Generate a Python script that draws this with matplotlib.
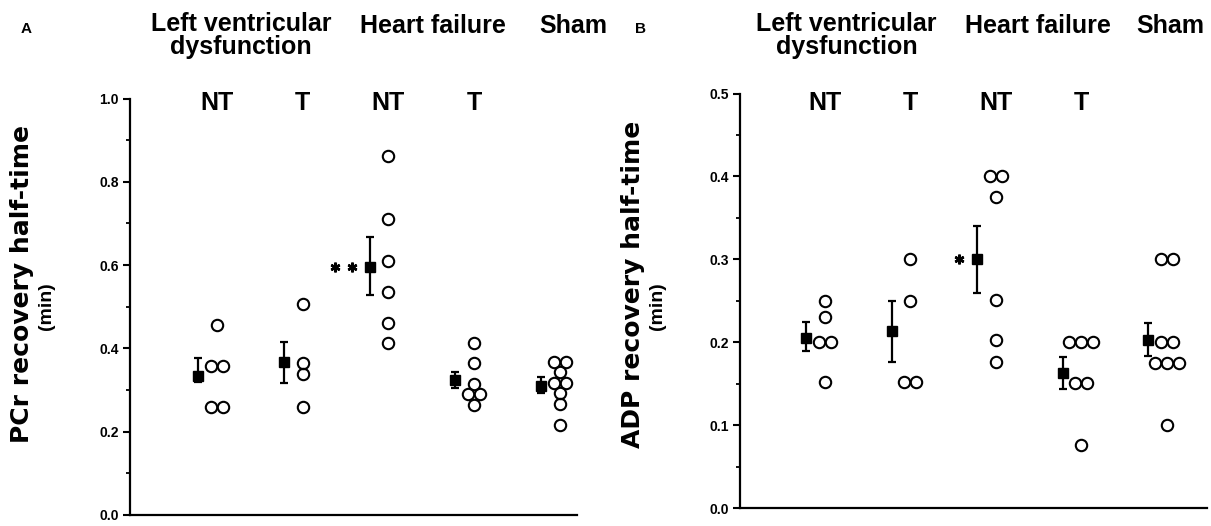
import numpy as np
import matplotlib.pyplot as plt
from matplotlib import transforms

plt.rcParams['font.family'] = ['Liberation Sans', 'DejaVu Sans']
plt.rcParams['font.weight'] = 'bold'

W, H = 1211, 526

groups = ['LVD NT', 'LVD T', 'HF NT', 'HF T', 'Sham']
treat_labels = ['NT', 'T', 'NT', 'T']
group_titles = ['Left ventricular\ndysfunction', 'Heart failure', 'Sham']

# panel A: PCr recovery half-time (min)
pcr_points = [
    [0.455, 0.358, 0.358, 0.259, 0.259],
    [0.507, 0.364, 0.338, 0.260],
    [0.862, 0.711, 0.610, 0.535, 0.462, 0.412],
    [0.414, 0.364, 0.315, 0.291, 0.291, 0.264],
    [0.367, 0.367, 0.343, 0.316, 0.316, 0.292, 0.266, 0.216],
]
pcr_mean = [0.334, 0.367, 0.596, 0.324, 0.310]
pcr_hi = [0.378, 0.416, 0.668, 0.344, 0.332]
pcr_lo = [0.319, 0.316, 0.528, 0.304, 0.292]
pcr_sig = ['', '', '**', '', '']

# panel B: ADP recovery half-time (min)
adp_points = [
    [0.25, 0.23, 0.2, 0.2, 0.152],
    [0.3, 0.25, 0.152, 0.152],
    [0.4, 0.4, 0.375, 0.251, 0.203, 0.176],
    [0.2, 0.2, 0.2, 0.151, 0.151, 0.076],
    [0.3, 0.3, 0.2, 0.2, 0.175, 0.175, 0.175, 0.1],
]
adp_mean = [0.205, 0.2135, 0.300, 0.163, 0.203]
adp_hi = [0.225, 0.25, 0.340, 0.1825, 0.2235]
adp_lo = [0.189, 0.1765, 0.260, 0.144, 0.1834]
adp_sig = ['', '', '*', '', '']


fig = plt.figure(figsize=(W / 100, H / 100), dpi=100)


def draw_panel(rect, xlim, points, mean, hi, lo, sig, ymax, major, title_x,
               ylab, ylab_x, letter, letter_x):
    ax = fig.add_axes(rect)
    step = 0.14
    for i, vals in enumerate(points):
        for v in sorted(set(vals)):
            k = vals.count(v)
            xs = i + (np.arange(k) - (k - 1) / 2) * step
            ax.plot(xs, [v] * k, 'o', mfc='none', mec='black', ms=8.2, mew=1.5,
                    clip_on=False)

    mean = np.array(mean)
    xm = np.arange(len(mean)) - 0.22
    ax.errorbar(xm, mean, yerr=[mean - np.array(lo), np.array(hi) - mean],
                fmt='s', color='black', ms=6.5, elinewidth=1.6, capsize=2.8,
                capthick=1.6)

    # significance asterisks to the left of the mean
    for i, s in enumerate(sig):
        for k in range(len(s)):
            tr = transforms.offset_copy(ax.transData, fig=fig, x=-18 - 17 * k,
                                        y=0, units='dots')
            ax.plot(xm[i], mean[i], marker=(6, 2, 0), color='black', ms=7,
                    mew=1.8, transform=tr)

    ax.set_xlim(*xlim)
    ax.set_ylim(0, ymax)
    ax.set_xticks([])
    ax.set_yticks(np.arange(0, ymax + 1e-9, major))
    ax.set_yticks(np.arange(major / 2, ymax, major), minor=True)
    ax.set_yticklabels(['%.1f' % t for t in np.arange(0, ymax + 1e-9, major)])
    ax.tick_params(axis='y', which='major', length=5, width=1.5, labelsize=10,
                   pad=3)
    ax.tick_params(axis='y', which='minor', length=3, width=1.3)
    for side in ['top', 'right']:
        ax.spines[side].set_visible(False)
    for side in ['left', 'bottom']:
        ax.spines[side].set_linewidth(1.6)

    tr = transforms.blended_transform_factory(ax.transData, fig.transFigure)
    for x, title in zip(title_x, group_titles):
        # baseline of the last line; first line sits at 33 px from the top
        base = 33 + 21 * title.count('\n')
        ax.text(x, 1 - base / H, title, transform=tr, ha='center',
                va='baseline', fontsize=18, linespacing=0.94)
    for i, lab in enumerate(treat_labels):
        ax.text(i, 1 - 110 / H, lab, transform=tr, ha='center', va='baseline',
                fontsize=18)

    fig.text(ylab_x / W, 1 - 284 / H, ylab, rotation=90, ha='center',
             va='center', fontsize=18, family='DejaVu Sans')
    fig.text((ylab_x + 25) / W, 1 - 306 / H, '(min)', rotation=90, ha='center',
             va='center', fontsize=14)
    fig.text(letter_x / W, 1 - 33 / H, letter, ha='center', va='baseline',
             fontsize=11)
    return ax


draw_panel([130 / W, 1 - 515 / H, 447 / W, 416.5 / H], (-1.015, 4.2),
           pcr_points, pcr_mean, pcr_hi, pcr_lo, pcr_sig, 1.0, 0.2,
           [0.28, 2.52, 4.16], 'PCr recovery half-time', 22, 'A', 26)
draw_panel([740 / W, 1 - 508 / H, 467 / W, 414.4 / H], (-0.995, 4.47),
           adp_points, adp_mean, adp_hi, adp_lo, adp_sig, 0.5, 0.1,
           [0.25, 2.49, 4.04], 'ADP recovery half-time', 633, 'B', 641)

fig.savefig('out.png', dpi=100)
